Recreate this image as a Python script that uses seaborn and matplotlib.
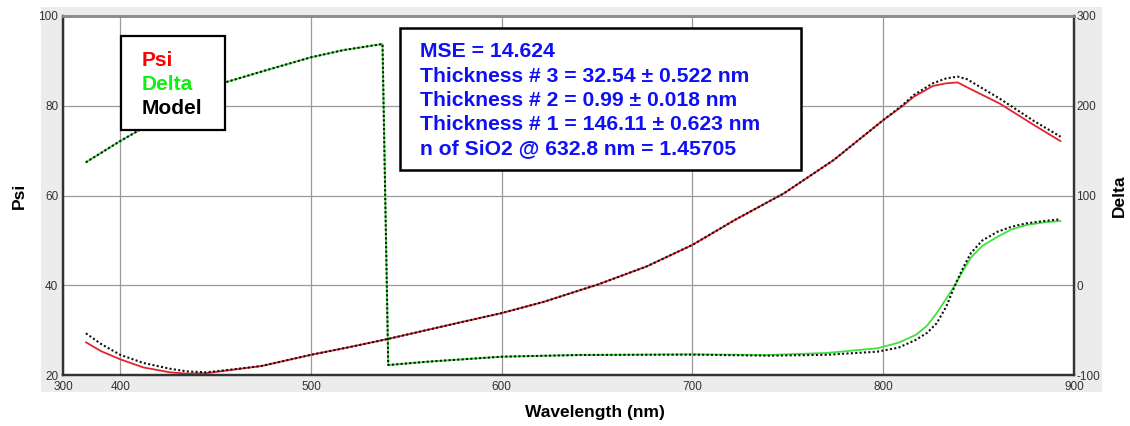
import numpy as np
import pandas as pd
import matplotlib
matplotlib.use("Agg")
import matplotlib.pyplot as plt
from matplotlib.patches import Rectangle
import seaborn as sns

# ---------------- data ----------------
wl_psi = [382, 390, 400, 412, 426, 435, 445, 456, 474, 500, 520, 540, 578, 600, 622, 641, 650,
          676, 700, 722, 748, 774, 800, 810, 816, 826, 833, 839, 844, 861, 879, 893]
psi_exp = [27.3, 25.3, 23.5, 21.7, 20.6, 20.3, 20.4, 21.0, 22.0, 24.5, 26.2, 28.0, 31.7, 33.8, 36.3,
           38.9, 40.1, 44.2, 49.0, 54.5, 60.5, 67.9, 76.8, 79.9, 82.0, 84.4, 85.0, 85.2, 84.1,
           80.5, 75.7, 72.1]
psi_model = [29.3, 26.9, 24.5, 22.7, 21.4, 20.8, 20.6, 21.1, 22.0, 24.5, 26.2, 28.0, 31.7, 33.8, 36.3,
             38.9, 40.1, 44.2, 49.0, 54.5, 60.5, 67.9, 76.8, 80.1, 82.4, 85.0, 86.1, 86.5, 85.9,
             81.6, 76.6, 73.1]

wl_delta = [382, 400, 420, 440, 455, 474, 500, 517, 537.5, 540.5, 561, 600, 641, 700, 740, 770,
            797, 808, 817, 823, 828, 833, 838, 842, 846, 852, 860, 867, 875, 884, 893]
delta_exp = [137, 160.7, 185, 208, 226, 238, 254, 262, 268.8, -88.9, -85.2, -79.6, -77.7, -77.0,
             -77.7, -75.5, -70.2, -64, -55.4, -45, -31.2, -15, 1.5, 17, 31, 44, 54.1, 62, 67.1,
             70, 71.6]
delta_model = [137, 160.7, 185, 208, 226, 238, 254, 262, 268.8, -88.9, -85.2, -79.6, -77.7, -77.3,
               -78.5, -77.5, -74, -69.5, -61, -53, -42.4, -24, 2, 20, 36, 50, 59.7, 65, 69,
               71.5, 73.5]

x_tick_values = [370, 400, 500, 600, 700, 800, 900]
x_tick_labels = ["300", "400", "500", "600", "700", "800", "900"]
psi_ticks = [20, 40, 60, 80, 100]
delta_ticks = [-100, 0, 100, 200, 300]

legend_labels = ["Psi", "Delta", "Model"]
info_lines = [
    "MSE = 14.624",
    "Thickness # 3 = 32.54 \u00b1 0.522 nm",
    "Thickness # 2 = 0.99 \u00b1 0.018 nm",
    "Thickness # 1 = 146.11 \u00b1 0.623 nm",
    "n of SiO2 @ 632.8 nm = 1.45705",
]

df_psi = pd.DataFrame({"wl": wl_psi, "psi": psi_exp, "psi_m": psi_model})
df_delta = pd.DataFrame({"wl": wl_delta, "delta": delta_exp, "delta_m": delta_model})

# ---------------- style ----------------
sns.set_style("white")
plt.rcParams["font.family"] = ["Liberation Sans", "DejaVu Sans"]
plt.rcParams["axes.unicode_minus"] = False

W, H = 1130, 426
fig = plt.figure(figsize=(W / 100, H / 100), dpi=100)
fig.patch.set_facecolor("white")

def fx(px):
    return px / W

def fy(py):
    return 1 - py / H

# gray panel behind the plot
fig.add_artist(Rectangle((fx(41), fy(392)), fx(1102) - fx(41), fy(7) - fy(392),
                         transform=fig.transFigure, facecolor="#ececec",
                         edgecolor="none", zorder=-5))

ax = fig.add_axes([fx(63), fy(375), fx(1074) - fx(63), fy(16) - fy(375)])
ax.set_facecolor("white")
ax2 = ax.twinx()

red = "#e3232f"
green = "#3fe03f"
dot_style = (0, (1, 1.1))

sns.lineplot(data=df_psi, x="wl", y="psi", ax=ax, color=red, linewidth=1.3, sort=False,
             estimator=None, zorder=3)
sns.lineplot(data=df_psi, x="wl", y="psi_m", ax=ax, color="#111111", linewidth=1.5,
             linestyle=dot_style, sort=False, estimator=None, zorder=4)
sns.lineplot(data=df_delta, x="wl", y="delta", ax=ax2, color=green, linewidth=1.3, sort=False,
             estimator=None, zorder=3)
sns.lineplot(data=df_delta, x="wl", y="delta_m", ax=ax2, color="#111111", linewidth=1.5,
             linestyle=dot_style, sort=False, estimator=None, zorder=4)

ax.set_xlim(370, 900)
ax.set_ylim(20, 100)
ax2.set_ylim(-100, 300)

ax.set_xticks(x_tick_values)
ax.set_xticklabels(x_tick_labels)
ax.set_yticks(psi_ticks)
ax2.set_yticks(delta_ticks)

ax.grid(True, color="#9a9a9a", linewidth=0.9)
ax2.grid(False)
ax.set_axisbelow(True)

ax.tick_params(axis="x", length=0, pad=4, labelsize=8.5, labelcolor="#333333")
ax.tick_params(axis="y", length=0, pad=3.5, labelsize=8.5, labelcolor="#333333")
ax2.tick_params(axis="y", length=0, pad=1.5, labelsize=8.5, labelcolor="#333333")

for a in (ax, ax2):
    for side in ("left", "bottom", "right"):
        a.spines[side].set_color("#333333")
        a.spines[side].set_linewidth(1.6)
        a.spines[side].set_visible(True)
    a.spines["top"].set_color("#8c8c8c")
    a.spines["top"].set_linewidth(2.0)

ax.set_xlabel("Wavelength (nm)", fontsize=12.5, fontweight="bold", color="black")
ax.xaxis.set_label_coords((595 - 63) / 1011, (375 - 412) / 359)
ax.xaxis.label.set_va("center")
ax.set_ylabel("Psi", fontsize=12.5, fontweight="bold", color="black")
ax.yaxis.set_label_coords((19 - 63) / 1011, 0.5)
ax.yaxis.label.set_va("center")
ax2.set_ylabel("Delta", fontsize=12.5, fontweight="bold", color="black")
ax2.yaxis.set_label_coords((1119 - 63) / 1011, 0.5)
ax2.yaxis.label.set_va("center")

# ---------------- legend box ----------------
fig.add_artist(Rectangle((fx(121), fy(129.5)), fx(224.5) - fx(121), fy(35.5) - fy(129.5),
                         transform=fig.transFigure, facecolor="white",
                         edgecolor="black", linewidth=1.6, zorder=10))
legend_colors = ["#ff0000", "#11ee11", "#000000"]
legend_baselines = [65.7, 90.0, 114.3]
for lab, col, yb in zip(legend_labels, legend_colors, legend_baselines):
    fig.text(fx(141.5), fy(yb), lab, color=col, fontsize=15, fontweight="bold",
             ha="left", va="baseline", zorder=11)

# ---------------- info box ----------------
fig.add_artist(Rectangle((fx(399.5), fy(170)), fx(800.5) - fx(399.5), fy(28.3) - fy(170),
                         transform=fig.transFigure, facecolor="white",
                         edgecolor="black", linewidth=1.8, zorder=10))
info_baselines = [57.3, 81.6, 105.8, 130.0, 153.6]
for line, yb in zip(info_lines, info_baselines):
    fig.text(fx(420), fy(yb), line, color="#1010f5", fontsize=15.2, fontweight="bold",
             ha="left", va="baseline", zorder=11)

fig.savefig("out.png", dpi=100)
